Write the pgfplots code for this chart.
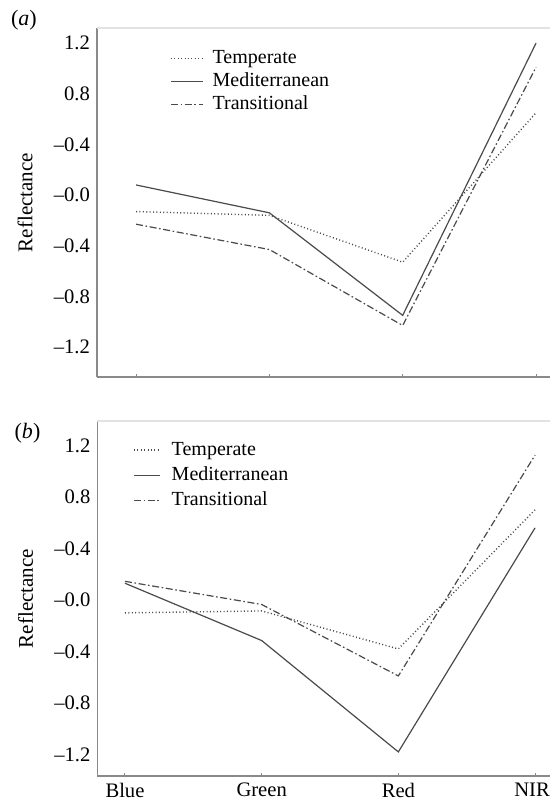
\documentclass[border=0pt]{standalone}
\usepackage{fontspec}
\setmainfont{Liberation Serif}
\usepackage{pgfplots}
\pgfplotsset{compat=1.18}

\definecolor{axisgray}{HTML}{8A8A8A}
\definecolor{toplinegray}{HTML}{E2E2E2}
\definecolor{curve}{HTML}{4A4A4A}

\pgfplotsset{
  refl/.style={
    scale only axis,
    axis x line*=bottom,
    axis y line*=left,
    axis line style={axisgray, line width=0.6pt},
    xtick={0,1,2,3},
    ytick={-1.2,-0.8,-0.4,0,0.4,0.8,1.2},
    yticklabels={\mbox{–1.2},\mbox{–0.8},\mbox{–0.4},\mbox{–0.0},\mbox{–0.4},\mbox{0.8},\mbox{1.2}},
    tick align=inside,
    major tick length=1.6pt,
    xtick style={axisgray, line width=0.5pt},
    ytick style={draw=none},
    tick label style={font=\fontsize{10.3}{12}\selectfont},
    ylabel={Reflectance},
    ylabel style={font=\fontsize{10.5}{12}\selectfont, at={(axis description cs:-0.158,0.5)}, anchor=center},
    legend cell align=left,
    legend style={draw=none, fill=none, inner sep=0pt, anchor=north west,
      font=\fontsize{10}{12}\selectfont,
      nodes={inner sep=0.5pt, text height=7.5pt, text depth=2.5pt}},
    clip=false,
  },
  tempst/.style={curve, line width=0.7pt, dash pattern=on 0.5pt off 1.2pt},
  medst/.style={curve, line width=0.6pt},
  transt/.style={curve, line width=0.6pt, dash pattern=on 3.5pt off 1.3pt on 0.8pt off 1.3pt},
}

\begin{document}
\begin{tikzpicture}
\path[use as bounding box] (0,0) rectangle (275pt,402.5pt);

% panel (a)
\begin{axis}[refl,
  at={(48.5pt,214pt)}, anchor=south west,
  width=227.5pt, height=174.5pt,
  xmin=-0.293, xmax=3.12, ymin=-1.437, ymax=1.32,
  xticklabels={},
  legend image code/.code={\draw[#1] (0pt,0pt) -- (16pt,0pt);},
  legend style={at={(axis description cs:0.16,0.945)}, column sep=4pt, row sep=0.5pt},
]
\addplot[tempst] coordinates {(0,-0.13) (1,-0.16) (2,-0.53) (3,0.65)};
\addplot[medst] coordinates {(0,0.08) (1,-0.14) (2,-0.95) (3,1.20)};
\addplot[transt] coordinates {(0,-0.23) (1,-0.43) (2,-1.03) (3,1.01)};
\legend{Temperate, Mediterranean, Transitional}
\draw[toplinegray, line width=0.6pt] (rel axis cs:0,1) -- (rel axis cs:1,1);
\end{axis}

% panel (b)
\begin{axis}[refl,
  at={(48.75pt,14.5pt)}, anchor=south west,
  width=227.25pt, height=177.5pt,
  xmin=-0.201, xmax=3.124, ymin=-1.367, ymax=1.39,
  xticklabels={Blue, Green, Red, \hspace*{-3pt}NIR},
  legend image code/.code={\draw[#1] (0pt,0pt) -- (13pt,0pt);},
  legend style={at={(axis description cs:0.078,0.95)}, column sep=5pt, row sep=1.5pt},
]
\addplot[tempst] coordinates {(0,-0.10) (1,-0.085) (2,-0.38) (3,0.70)};
\addplot[medst] coordinates {(0,0.13) (1,-0.315) (2,-1.18) (3,0.56)};
\addplot[transt] coordinates {(0,0.145) (1,-0.035) (2,-0.59) (3,1.125)};
\legend{Temperate, Mediterranean, Transitional}
\draw[toplinegray, line width=0.6pt] (rel axis cs:0,1) -- (rel axis cs:1,1);
\end{axis}

\node[font=\fontsize{11}{13}\selectfont] at (12pt,392.5pt) {(\textit{a})};
\node[font=\fontsize{11}{13}\selectfont] at (13.75pt,186pt) {(\textit{b})};
\end{tikzpicture}
\end{document}
